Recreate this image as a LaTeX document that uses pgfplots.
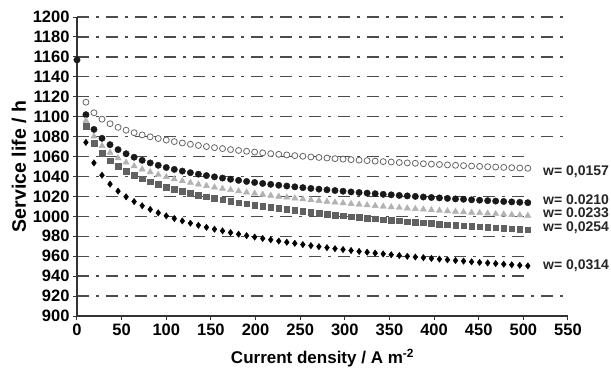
\documentclass[border=0pt]{standalone}
\usepackage{pgfplots}
\pgfplotsset{compat=1.18}
\usepackage{pgfplotstable}
\usepackage{fontspec}
\setmainfont{Liberation Sans}

\pgfplotstableread{
x A B C D E
10 1114.5 1102.0 1095.9 1090.5 1074.2
19 1103.9 1087.2 1080.2 1073.5 1053.6
28 1097.5 1078.3 1070.7 1063.2 1041.2
37 1092.9 1071.9 1063.9 1055.9 1032.3
46 1089.3 1066.9 1058.5 1050.1 1025.3
55 1086.4 1062.8 1054.1 1045.3 1019.6
64 1083.9 1059.3 1050.4 1041.3 1014.8
73 1081.7 1056.2 1047.2 1037.8 1010.6
82 1079.8 1053.6 1044.4 1034.8 1006.9
91 1078.1 1051.2 1041.8 1032.0 1003.5
100 1076.5 1049.0 1039.5 1029.5 1000.5
109 1075.0 1047.1 1037.4 1027.2 997.8
118 1073.6 1045.4 1035.5 1025.1 995.4
127 1072.3 1043.8 1033.8 1023.2 993.1
136 1071.1 1042.3 1032.1 1021.4 991.0
145 1070.0 1040.9 1030.6 1019.7 989.0
154 1068.9 1039.6 1029.1 1018.1 987.1
163 1068.0 1038.4 1027.8 1016.6 985.4
172 1067.0 1037.2 1026.5 1015.1 983.7
181 1066.1 1036.1 1025.3 1013.8 982.1
190 1065.3 1035.0 1024.1 1012.5 980.6
199 1064.5 1034.0 1023.0 1011.3 979.2
208 1063.7 1033.0 1021.9 1010.1 977.8
217 1062.9 1032.1 1020.9 1009.0 976.5
226 1062.2 1031.2 1019.9 1007.9 975.2
235 1061.6 1030.4 1019.0 1006.9 974.0
244 1060.9 1029.6 1018.1 1005.9 972.9
253 1060.3 1028.8 1017.2 1004.9 971.7
262 1059.6 1028.0 1016.4 1004.0 970.6
271 1059.1 1027.3 1015.6 1003.1 969.6
280 1058.5 1026.6 1014.8 1002.2 968.6
289 1057.9 1025.9 1014.0 1001.4 967.6
298 1057.4 1025.2 1013.3 1000.6 966.7
307 1056.9 1024.5 1012.6 999.8 965.7
316 1056.4 1023.9 1011.9 999.0 964.8
325 1055.9 1023.3 1011.2 998.3 964.0
334 1055.4 1022.7 1010.6 997.5 963.1
343 1054.9 1022.1 1009.9 996.8 962.3
352 1054.5 1021.6 1009.3 996.2 961.5
361 1054.0 1021.0 1008.7 995.5 960.7
370 1053.6 1020.5 1008.1 994.8 959.9
379 1053.2 1020.0 1007.5 994.2 959.2
388 1052.8 1019.4 1007.0 993.6 958.5
397 1052.4 1018.9 1006.4 993.0 957.8
406 1052.0 1018.5 1005.9 992.4 957.1
415 1051.6 1018.0 1005.3 991.8 956.4
424 1051.2 1017.5 1004.8 991.2 955.7
433 1050.9 1017.1 1004.3 990.7 955.1
442 1050.5 1016.6 1003.8 990.1 954.4
451 1050.1 1016.2 1003.4 989.6 953.8
460 1049.8 1015.7 1002.9 989.1 953.2
469 1049.5 1015.3 1002.4 988.5 952.6
478 1049.1 1014.9 1002.0 988.0 952.0
487 1048.8 1014.5 1001.5 987.5 951.4
496 1048.5 1014.1 1001.1 987.1 950.9
505 1048.2 1013.7 1000.6 986.6 950.3
}\data

\begin{document}
\begin{tikzpicture}
\begin{axis}[
  scale only axis, width=491pt, height=299pt,
  xmin=0, xmax=550, ymin=900, ymax=1200,
  axis lines=left,
  axis line style={draw=black!80, line width=1.2pt, -},
  xtick={0,50,...,550}, ytick={900,920,...,1200},
  tick align=outside, major tick length=4pt,
  tick style={draw=black!80, line width=1pt},
  ymajorgrids,
  grid style={draw=black!70, line width=1.3pt, dash pattern=on 12pt off 7pt on 3pt off 7pt},
  ticklabel style={font=\fontsize{16.5}{18}\selectfont\bfseries},
  /pgf/number format/assume math mode=true,
  /pgf/number format/1000 sep={},
  xlabel={Current density / A m\textsuperscript{-2}},
  ylabel={Service life / h},
  xlabel style={font=\fontsize{17}{20}\selectfont\bfseries, at={(axis description cs:0.5,-0.1405)}, anchor=center},
  ylabel style={font=\fontsize{19.5}{22}\selectfont\bfseries, at={(axis description cs:-0.118,0.5)}, anchor=center},
  clip=false,
]
\coordinate (O) at (rel axis cs:0,0);
\addplot[only marks, mark=*, mark size=3pt, mark options={draw=black!60, fill=white, line width=0.8pt}] table[x=x, y=A] {\data};
\addplot[only marks, mark=*, mark size=3.2pt, mark options={draw=black!90, fill=black!90}] table[x=x, y=B] {\data};
\addplot[only marks, mark=*, mark size=3.2pt, mark options={draw=black!90, fill=black!90}] coordinates {(0,1157)};
\addplot[only marks, mark=triangle*, mark size=3.6pt, mark options={draw=black!30, fill=black!30}] table[x=x, y=C] {\data};
\addplot[only marks, mark=square*, mark size=2.8pt, mark options={draw=black!62, fill=black!62}] table[x=x, y=D] {\data};
\addplot[only marks, mark=diamond*, mark size=3.2pt, mark options={draw=black, fill=black}] table[x=x, y=E] {\data};
\fill[white] (axis cs:509,930) rectangle (axis cs:552,1070);
\begin{scope}[every node/.style={anchor=west, inner sep=0pt, font=\fontsize{14}{16}\selectfont\bfseries, text=black!85}]
\node at (axis cs:522,1045) {w= 0,0157};
\node at (axis cs:522,1016.6) {w= 0.0210};
\node at (axis cs:522,1003.2) {w= 0.0233};
\node at (axis cs:522,988.8) {w= 0,0254};
\node at (axis cs:522,950.6) {w= 0,0314};
\end{scope}
\end{axis}
\path (O) ++(-77pt,-57pt) rectangle ++(611pt,373pt);
\end{tikzpicture}
\end{document}
